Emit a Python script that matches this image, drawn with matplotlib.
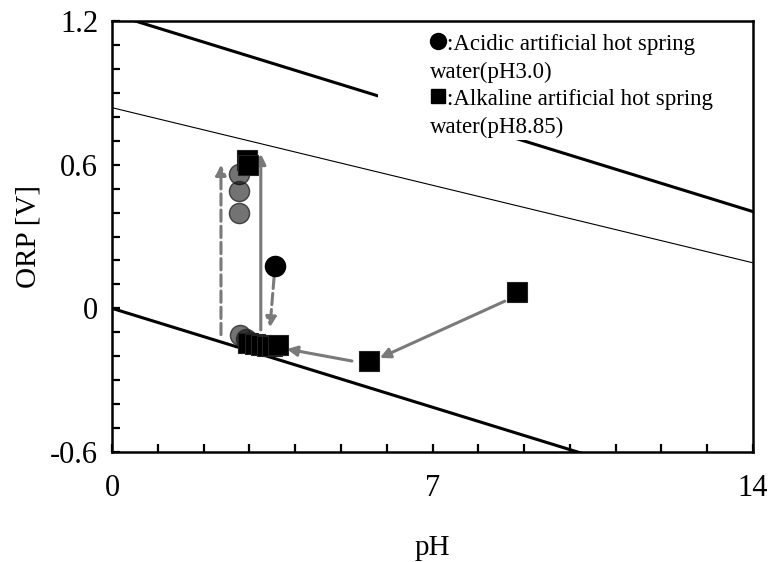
import matplotlib
matplotlib.use("Agg")
import matplotlib.pyplot as plt
from matplotlib.patches import Rectangle
from matplotlib.ticker import MultipleLocator

plt.rcParams['font.family'] = ['Liberation Serif', 'DejaVu Sans']

# Stability lines (pH, ORP endpoints)
upper_line_ph = [0, 14]
upper_line_orp = [1.23, 0.404]
thin_line_ph = [0, 14]
thin_line_orp = [0.838, 0.19]
lower_line_ph = [0, 14]
lower_line_orp = [0.0, -0.826]

# Acidic artificial hot spring water (circles)
acid_ph = [2.77, 2.77, 2.77, 2.80, 2.92, 3.02, 3.12]
acid_orp = [0.56, 0.49, 0.40, -0.11, -0.13, -0.14, -0.15]
acid_start_ph = [3.55]
acid_start_orp = [0.175]

# Alkaline artificial hot spring water (squares)
alk_ph = [8.85, 5.61, 2.95, 2.96, 2.98, 3.12, 3.25, 3.38, 3.50, 3.63]
alk_orp = [0.069, -0.22, 0.62, 0.60, -0.145, -0.15, -0.155, -0.158, -0.156, -0.153]

# Arrows: start/end (pH, ORP) and line style
arrow_x0 = [2.38, 3.25, 3.54, 8.58, 5.24]
arrow_y0 = [-0.11, -0.09, 0.13, 0.03, -0.22]
arrow_x1 = [2.38, 3.25, 3.45, 5.85, 3.82]
arrow_y1 = [0.60, 0.645, -0.08, -0.207, -0.17]
arrow_ls = ['--', '-', '--', '-', '-']

xtick_vals = [0, 7, 14]
xtick_labels = ['0', '7', '14']
ytick_vals = [-0.6, 0, 0.6, 1.2]
ytick_labels = ['-0.6', '0', '0.6', '1.2']

legend_first = [':Acidic artificial hot spring', ':Alkaline artificial hot spring']
legend_second = ['water(pH3.0)', 'water(pH8.85)']
legend_markers = ['o', 's']

W, H = 770, 562
L, R, T, B = 112, 753, 21, 452


def ax_xy(px, py):
    return (px - L) / (R - L), (B - py) / (B - T)


fig = plt.figure(figsize=(W / 100, H / 100), dpi=100)
ax = fig.add_axes([L / W, 1 - B / H, (R - L) / W, (B - T) / H])

ax.plot(upper_line_ph, upper_line_orp, color='black', lw=2.2, zorder=2)
ax.plot(thin_line_ph, thin_line_orp, color='black', lw=0.8, zorder=2)
ax.plot(lower_line_ph, lower_line_orp, color='black', lw=2.2, zorder=2)

# white area behind the legend text
ax.add_patch(Rectangle(ax_xy(378, 140), 1, 1, transform=ax.transAxes,
                       facecolor='white', edgecolor='none', zorder=2.2))

gray = '#7a7a7a'
for x0, y0, x1, y1, ls in zip(arrow_x0, arrow_y0, arrow_x1, arrow_y1, arrow_ls):
    ax.annotate('', xy=(x1, y1), xytext=(x0, y0),
                arrowprops=dict(arrowstyle='-|>,head_length=0.6,head_width=0.3',
                                color=gray, lw=2.2, linestyle=ls,
                                shrinkA=0, shrinkB=0), zorder=3)

ax.plot(acid_ph, acid_orp, 'o', ms=14.5, mfc=(0, 0, 0, 0.55), mec=(0.15, 0.15, 0.15, 0.8),
        mew=1, linestyle='none', zorder=4)
ax.plot(acid_start_ph, acid_start_orp, 'o', ms=14.5, mfc='black', mec='black',
        linestyle='none', zorder=4)
ax.plot(alk_ph, alk_orp, 's', ms=14, mfc='black', mec='#222222', mew=0.8,
        linestyle='none', zorder=5)

# legend drawn as text block
line_y = [42, 70, 97, 125]
for i, (t1, t2, mk) in enumerate(zip(legend_first, legend_second, legend_markers)):
    y1 = line_y[2 * i]
    y2 = line_y[2 * i + 1]
    mx, my = ax_xy(438, y1 - 1)
    ax.plot([mx], [my], mk, ms=(11.5 if mk == 'o' else 10.5), color='black',
            transform=ax.transAxes, clip_on=False, zorder=6)
    ax.text(*ax_xy(447, y1), t1, transform=ax.transAxes, ha='left',
            va='center_baseline', fontsize=16.5, zorder=6)
    ax.text(*ax_xy(430, y2), t2, transform=ax.transAxes, ha='left',
            va='center_baseline', fontsize=16.5, zorder=6)

ax.set_xlim(0, 14)
ax.set_ylim(-0.6, 1.2)
ax.set_xticks(xtick_vals)
ax.set_xticklabels(xtick_labels)
ax.set_yticks(ytick_vals)
ax.set_yticklabels(ytick_labels)
ax.xaxis.set_minor_locator(MultipleLocator(1))
ax.yaxis.set_minor_locator(MultipleLocator(0.1))
ax.tick_params(which='both', direction='in', length=6, width=1.6, labelsize=22)
ax.tick_params(axis='x', which='major', pad=16)
ax.tick_params(axis='y', which='major', pad=10)
for s in ax.spines.values():
    s.set_linewidth(1.8)

ax.set_xlabel('pH', fontsize=21)
ax.set_ylabel('ORP [V]', fontsize=21)
ax.xaxis.set_label_coords(0.5, -(548 - B) / (B - T), transform=ax.transAxes)
ax.xaxis.label.set_va('center')
ax.yaxis.set_label_coords(-(L - 28) / (R - L), 0.5, transform=ax.transAxes)
ax.yaxis.label.set_va('center')

fig.savefig('out.png', dpi=100)
